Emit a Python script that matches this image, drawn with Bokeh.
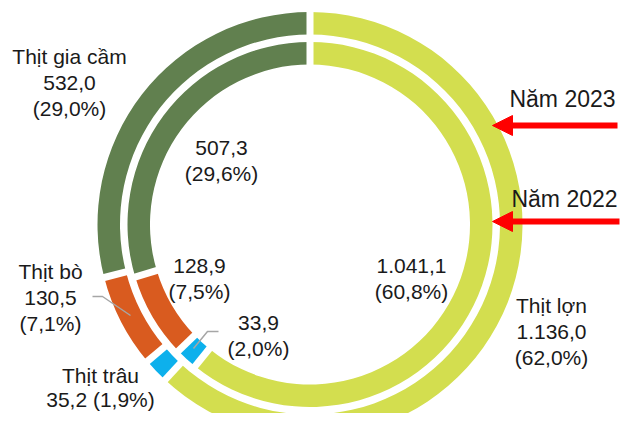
import math
from bokeh.plotting import figure
from bokeh.models import Range1d, Arrow, NormalHead
from bokeh.core.properties import value
from bokeh.embed import file_html
from bokeh.resources import INLINE

# ---------------- data ----------------
categories = ["Thịt lợn", "Thịt trâu", "Thịt bò", "Thịt gia cầm"]
values_2023 = [1136.0, 35.2, 130.5, 532.0]
values_2022 = [1041.1, 33.9, 128.9, 507.3]
pct_2023 = [62.0, 1.9, 7.1, 29.0]
pct_2022 = [60.8, 2.0, 7.5, 29.6]
year_labels = ["Năm 2023", "Năm 2022"]

# ---------------- style ----------------
colors = ["#d3de4f", "#0db0ec", "#d95b1f", "#61804f"]
FONT = value("Liberation Sans")
TXT = "#1a1a1a"

def vn(v):
    s = f"{v:,.1f}"
    return s.replace(",", "X").replace(".", ",").replace("X", ".")

def Y(y):
    return 429 - y

W, H = 621, 413
p = figure(width=W, height=H, x_range=Range1d(0, 621), y_range=Range1d(16, 429),
           output_backend="svg", toolbar_location=None, min_border=0)
p.xaxis.visible = False
p.yaxis.visible = False
p.xgrid.visible = False
p.ygrid.visible = False
p.outline_line_color = None
p.background_fill_color = "white"
p.border_fill_color = "white"

cx, cy = 309.5, Y(224)
rings = [(values_2023, 190.0, 212.5), (values_2022, 160.0, 182.5)]

for vals, r_in, r_out in rings:
    total = sum(vals)
    cum = 0.0
    starts, ends, bounds = [], [], []
    for v in vals:
        a0 = math.pi / 2 - 2 * math.pi * cum / total
        cum += v
        a1 = math.pi / 2 - 2 * math.pi * cum / total
        starts.append(a1)
        ends.append(a0)
        bounds.append(a0)
    p.annular_wedge(x=[cx] * len(vals), y=[cy] * len(vals), inner_radius=r_in, outer_radius=r_out,
                    start_angle=starts, end_angle=ends, direction="anticlock",
                    fill_color=colors, line_color=None)
    # white separators between slices
    p.segment(x0=[cx + (r_in - 3) * math.cos(a) for a in bounds],
              y0=[cy + (r_in - 3) * math.sin(a) for a in bounds],
              x1=[cx + (r_out + 3) * math.cos(a) for a in bounds],
              y1=[cy + (r_out + 3) * math.sin(a) for a in bounds],
              line_color="white", line_width=7)

# leader lines
p.line(x=[92, 102, 130], y=[Y(296), Y(296), Y(315)], line_color="#a6a6a6", line_width=1.5)
p.line(x=[218, 207, 193], y=[Y(331), Y(331), Y(348)], line_color="#a6a6a6", line_width=1.5)

# labels
outer_txt = [f"{categories[0]}\n{vn(values_2023[0])}\n({vn(pct_2023[0])}%)",
             f"{categories[2]}\n{vn(values_2023[2])}\n({vn(pct_2023[2])}%)",
             f"{categories[3]}\n{vn(values_2023[3])}\n({vn(pct_2023[3])}%)"]
outer_pos = [(551, 331), (50, 297), (69, 82)]
inner_txt = [f"{vn(values_2022[i])}\n({vn(pct_2022[i])}%)" for i in range(4)]
inner_pos = [(411, 278), (258, 335), (199, 278), (221, 160)]

p.text(x=[q[0] for q in outer_pos + inner_pos], y=[Y(q[1]) for q in outer_pos + inner_pos],
       text=outer_txt + inner_txt, text_font=FONT, text_font_size="21px",
       text_align="center", text_baseline="middle", text_color=TXT, text_line_height=1.15)

# buffalo label (near bottom edge)
p.text(x=[100], y=[Y(387)], text=[f"{categories[1]}\n{vn(values_2023[1])} ({vn(pct_2023[1])}%)"],
       text_font=FONT, text_font_size="21px", text_align="center", text_baseline="middle",
       text_color=TXT, text_line_height=1.05)

p.text(x=[562, 564], y=[Y(98), Y(198)], text=year_labels, text_font=FONT,
       text_font_size="23px", text_align="center", text_baseline="middle", text_color=TXT)

for (xs, ys, xe) in [(617, 125, 492), (619, 221, 492)]:
    p.add_layout(Arrow(end=NormalHead(size=20, fill_color="#ff0000", line_color="#ff0000"),
                       x_start=xs, y_start=Y(ys), x_end=xe, y_end=Y(ys),
                       line_color="#ff0000", line_width=6))

open("out.html", "w").write(file_html(p, INLINE))
